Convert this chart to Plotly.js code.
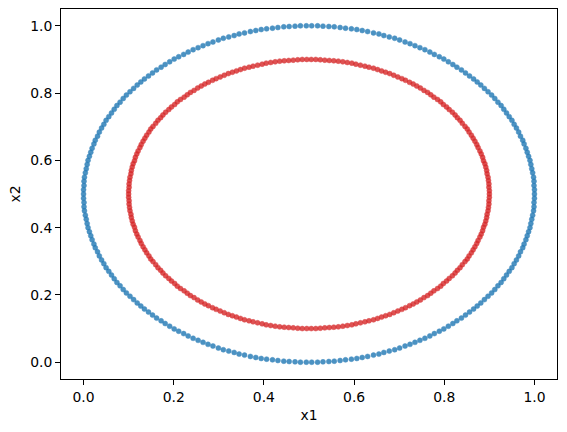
<!DOCTYPE html>
<html>
<head>
<meta charset="utf-8">
<script src="https://cdn.plot.ly/plotly-3.0.1.min.js"></script>
<style>html,body{margin:0;padding:0;background:#fff;}#chart{width:567px;height:432px;}</style>
</head>
<body>
<div id="chart"></div>
<script>
var outerX = [
1.000,1.000,0.999,0.999,0.998,0.996,0.994,0.992,0.990,0.987,0.984,0.981,0.977,0.974,0.969,0.965,0.960,0.955,0.950,0.944,0.938,0.932,0.926,0.919,0.912,0.905,0.897,0.889,0.881,0.873,0.865,0.856,0.847,0.838,0.828,0.819,0.809,0.799,0.789,0.778,0.768,0.757,0.746,0.735,0.724,0.713,0.701,0.690,0.678,0.666,0.655,0.643,0.630,0.618,0.606,0.594,0.581,0.569,0.556,0.544,0.531,0.519,0.506,
0.494,0.481,0.469,0.456,0.444,0.431,0.419,0.406,0.394,0.382,0.370,0.357,0.345,0.334,0.322,0.310,0.299,0.287,0.276,0.265,0.254,0.243,0.232,0.222,0.211,0.201,0.191,0.181,0.172,0.162,0.153,0.144,0.135,0.127,0.119,0.111,0.103,0.095,0.088,0.081,0.074,0.068,0.062,0.056,0.050,0.045,0.040,0.035,0.031,0.026,0.023,0.019,0.016,0.013,0.010,0.008,0.006,0.004,0.002,0.001,0.001,0.000,
0.000,0.000,0.001,0.001,0.002,0.004,0.006,0.008,0.010,0.013,0.016,0.019,0.023,0.026,0.031,0.035,0.040,0.045,0.050,0.056,0.062,0.068,0.074,0.081,0.088,0.095,0.103,0.111,0.119,0.127,0.135,0.144,0.153,0.162,0.172,0.181,0.191,0.201,0.211,0.222,0.232,0.243,0.254,0.265,0.276,0.287,0.299,0.310,0.322,0.334,0.345,0.357,0.370,0.382,0.394,0.406,0.419,0.431,0.444,0.456,0.469,0.481,0.494,
0.506,0.519,0.531,0.544,0.556,0.569,0.581,0.594,0.606,0.618,0.630,0.643,0.655,0.666,0.678,0.690,0.701,0.713,0.724,0.735,0.746,0.757,0.768,0.778,0.789,0.799,0.809,0.819,0.828,0.838,0.847,0.856,0.865,0.873,0.881,0.889,0.897,0.905,0.912,0.919,0.926,0.932,0.938,0.944,0.950,0.955,0.960,0.965,0.969,0.974,0.977,0.981,0.984,0.987,0.990,0.992,0.994,0.996,0.998,0.999,0.999,1.000
];
var outerY = [
0.500,0.513,0.525,0.538,0.550,0.563,0.575,0.588,0.600,0.612,0.624,0.636,0.649,0.660,0.672,0.684,0.696,0.707,0.719,0.730,0.741,0.752,0.763,0.773,0.784,0.794,0.804,0.814,0.824,0.833,0.842,0.851,0.860,0.869,0.877,0.885,0.893,0.901,0.908,0.915,0.922,0.929,0.935,0.941,0.947,0.952,0.958,0.963,0.967,0.971,0.976,0.979,0.983,0.986,0.989,0.991,0.993,0.995,0.997,0.998,0.999,1.000,1.000,
1.000,1.000,0.999,0.998,0.997,0.995,0.993,0.991,0.989,0.986,0.983,0.979,0.976,0.971,0.967,0.963,0.958,0.952,0.947,0.941,0.935,0.929,0.922,0.915,0.908,0.901,0.893,0.885,0.877,0.869,0.860,0.851,0.842,0.833,0.824,0.814,0.804,0.794,0.784,0.773,0.763,0.752,0.741,0.730,0.719,0.707,0.696,0.684,0.672,0.660,0.649,0.636,0.624,0.612,0.600,0.588,0.575,0.563,0.550,0.538,0.525,0.513,
0.500,0.487,0.475,0.462,0.450,0.437,0.425,0.412,0.400,0.388,0.376,0.364,0.351,0.340,0.328,0.316,0.304,0.293,0.281,0.270,0.259,0.248,0.237,0.227,0.216,0.206,0.196,0.186,0.176,0.167,0.158,0.149,0.140,0.131,0.123,0.115,0.107,0.099,0.092,0.085,0.078,0.071,0.065,0.059,0.053,0.048,0.042,0.037,0.033,0.029,0.024,0.021,0.017,0.014,0.011,0.009,0.007,0.005,0.003,0.002,0.001,0.000,0.000,
0.000,0.000,0.001,0.002,0.003,0.005,0.007,0.009,0.011,0.014,0.017,0.021,0.024,0.029,0.033,0.037,0.042,0.048,0.053,0.059,0.065,0.071,0.078,0.085,0.092,0.099,0.107,0.115,0.123,0.131,0.140,0.149,0.158,0.167,0.176,0.186,0.196,0.206,0.216,0.227,0.237,0.248,0.259,0.270,0.281,0.293,0.304,0.316,0.328,0.340,0.351,0.364,0.376,0.388,0.400,0.412,0.425,0.437,0.450,0.462,0.475,0.487
];
var innerX = [
0.900,0.900,0.899,0.899,0.898,0.897,0.895,0.894,0.892,0.890,0.887,0.885,0.882,0.879,0.875,0.872,0.868,0.864,0.860,0.855,0.851,0.846,0.840,0.835,0.829,0.824,0.818,0.811,0.805,0.798,0.792,0.785,0.777,0.770,0.763,0.755,0.747,0.739,0.731,0.723,0.714,0.706,0.697,0.688,0.679,0.670,0.661,0.652,0.643,0.633,0.624,0.614,0.604,0.595,0.585,0.575,0.565,0.555,0.545,0.535,0.525,0.515,0.505,
0.495,0.485,0.475,0.465,0.455,0.445,0.435,0.425,0.415,0.405,0.396,0.386,0.376,0.367,0.357,0.348,0.339,0.330,0.321,0.312,0.303,0.294,0.286,0.277,0.269,0.261,0.253,0.245,0.237,0.230,0.223,0.215,0.208,0.202,0.195,0.189,0.182,0.176,0.171,0.165,0.160,0.154,0.149,0.145,0.140,0.136,0.132,0.128,0.125,0.121,0.118,0.115,0.113,0.110,0.108,0.106,0.105,0.103,0.102,0.101,0.101,0.100,
0.100,0.100,0.101,0.101,0.102,0.103,0.105,0.106,0.108,0.110,0.113,0.115,0.118,0.121,0.125,0.128,0.132,0.136,0.140,0.145,0.149,0.154,0.160,0.165,0.171,0.176,0.182,0.189,0.195,0.202,0.208,0.215,0.223,0.230,0.237,0.245,0.253,0.261,0.269,0.277,0.286,0.294,0.303,0.312,0.321,0.330,0.339,0.348,0.357,0.367,0.376,0.386,0.396,0.405,0.415,0.425,0.435,0.445,0.455,0.465,0.475,0.485,0.495,
0.505,0.515,0.525,0.535,0.545,0.555,0.565,0.575,0.585,0.595,0.604,0.614,0.624,0.633,0.643,0.652,0.661,0.670,0.679,0.688,0.697,0.706,0.714,0.723,0.731,0.739,0.747,0.755,0.763,0.770,0.777,0.785,0.792,0.798,0.805,0.811,0.818,0.824,0.829,0.835,0.840,0.846,0.851,0.855,0.860,0.864,0.868,0.872,0.875,0.879,0.882,0.885,0.887,0.890,0.892,0.894,0.895,0.897,0.898,0.899,0.899,0.900
];
var innerY = [
0.500,0.510,0.520,0.530,0.540,0.550,0.560,0.570,0.580,0.590,0.599,0.609,0.619,0.628,0.638,0.647,0.657,0.666,0.675,0.684,0.693,0.701,0.710,0.719,0.727,0.735,0.743,0.751,0.759,0.766,0.774,0.781,0.788,0.795,0.802,0.808,0.815,0.821,0.827,0.832,0.838,0.843,0.848,0.853,0.858,0.862,0.866,0.870,0.874,0.877,0.880,0.883,0.886,0.889,0.891,0.893,0.895,0.896,0.897,0.898,0.899,0.900,0.900,
0.900,0.900,0.899,0.898,0.897,0.896,0.895,0.893,0.891,0.889,0.886,0.883,0.880,0.877,0.874,0.870,0.866,0.862,0.858,0.853,0.848,0.843,0.838,0.832,0.827,0.821,0.815,0.808,0.802,0.795,0.788,0.781,0.774,0.766,0.759,0.751,0.743,0.735,0.727,0.719,0.710,0.701,0.693,0.684,0.675,0.666,0.657,0.647,0.638,0.628,0.619,0.609,0.599,0.590,0.580,0.570,0.560,0.550,0.540,0.530,0.520,0.510,
0.500,0.490,0.480,0.470,0.460,0.450,0.440,0.430,0.420,0.410,0.401,0.391,0.381,0.372,0.362,0.353,0.343,0.334,0.325,0.316,0.307,0.299,0.290,0.281,0.273,0.265,0.257,0.249,0.241,0.234,0.226,0.219,0.212,0.205,0.198,0.192,0.185,0.179,0.173,0.168,0.162,0.157,0.152,0.147,0.142,0.138,0.134,0.130,0.126,0.123,0.120,0.117,0.114,0.111,0.109,0.107,0.105,0.104,0.103,0.102,0.101,0.100,0.100,
0.100,0.100,0.101,0.102,0.103,0.104,0.105,0.107,0.109,0.111,0.114,0.117,0.120,0.123,0.126,0.130,0.134,0.138,0.142,0.147,0.152,0.157,0.162,0.168,0.173,0.179,0.185,0.192,0.198,0.205,0.212,0.219,0.226,0.234,0.241,0.249,0.257,0.265,0.273,0.281,0.290,0.299,0.307,0.316,0.325,0.334,0.343,0.353,0.362,0.372,0.381,0.391,0.401,0.410,0.420,0.430,0.440,0.450,0.460,0.470,0.480,0.490
];
var tickVals = [0.0, 0.2, 0.4, 0.6, 0.8, 1.0];
var tickText = ["0.0", "0.2", "0.4", "0.6", "0.8", "1.0"];
var xTitle = "x1";
var yTitle = "x2";

var traces = [
  {x: outerX, y: outerY, type: "scatter", mode: "markers", hoverinfo: "skip",
   marker: {size: 5, color: "#1f77b4", opacity: 0.8, line: {width: 0.5, color: "#1f77b4"}}},
  {x: innerX, y: innerY, type: "scatter", mode: "markers", hoverinfo: "skip",
   marker: {size: 5, color: "#d62728", opacity: 0.8, line: {width: 0.5, color: "#d62728"}}}
];
var axisCommon = {
  showgrid: false, zeroline: false, showline: true, mirror: true,
  linecolor: "#000", linewidth: 1, ticks: "outside", ticklen: 5, tickwidth: 1, tickcolor: "#000",
  tickvals: tickVals, ticktext: tickText, tickfont: {family: "DejaVu Sans", size: 13.9, color: "#000"}
};
var layout = {
  width: 567, height: 432, showlegend: false,
  paper_bgcolor: "#fff", plot_bgcolor: "#fff",
  margin: {l: 61, r: 10, t: 9, b: 53},
  font: {family: "DejaVu Sans", color: "#000"},
  xaxis: Object.assign({}, axisCommon, {range: [-0.05, 1.05], automargin: false,
    title: {text: xTitle, font: {family: "DejaVu Sans", size: 13.9, color: "#000"}, standoff: 6}}),
  yaxis: Object.assign({}, axisCommon, {range: [-0.05, 1.05], automargin: false,
    title: {text: yTitle, font: {family: "DejaVu Sans", size: 13.9, color: "#000"}, standoff: 6}})
};
Plotly.newPlot("chart", traces, layout, {staticPlot: true, displayModeBar: false});
</script>
</body>
</html>
